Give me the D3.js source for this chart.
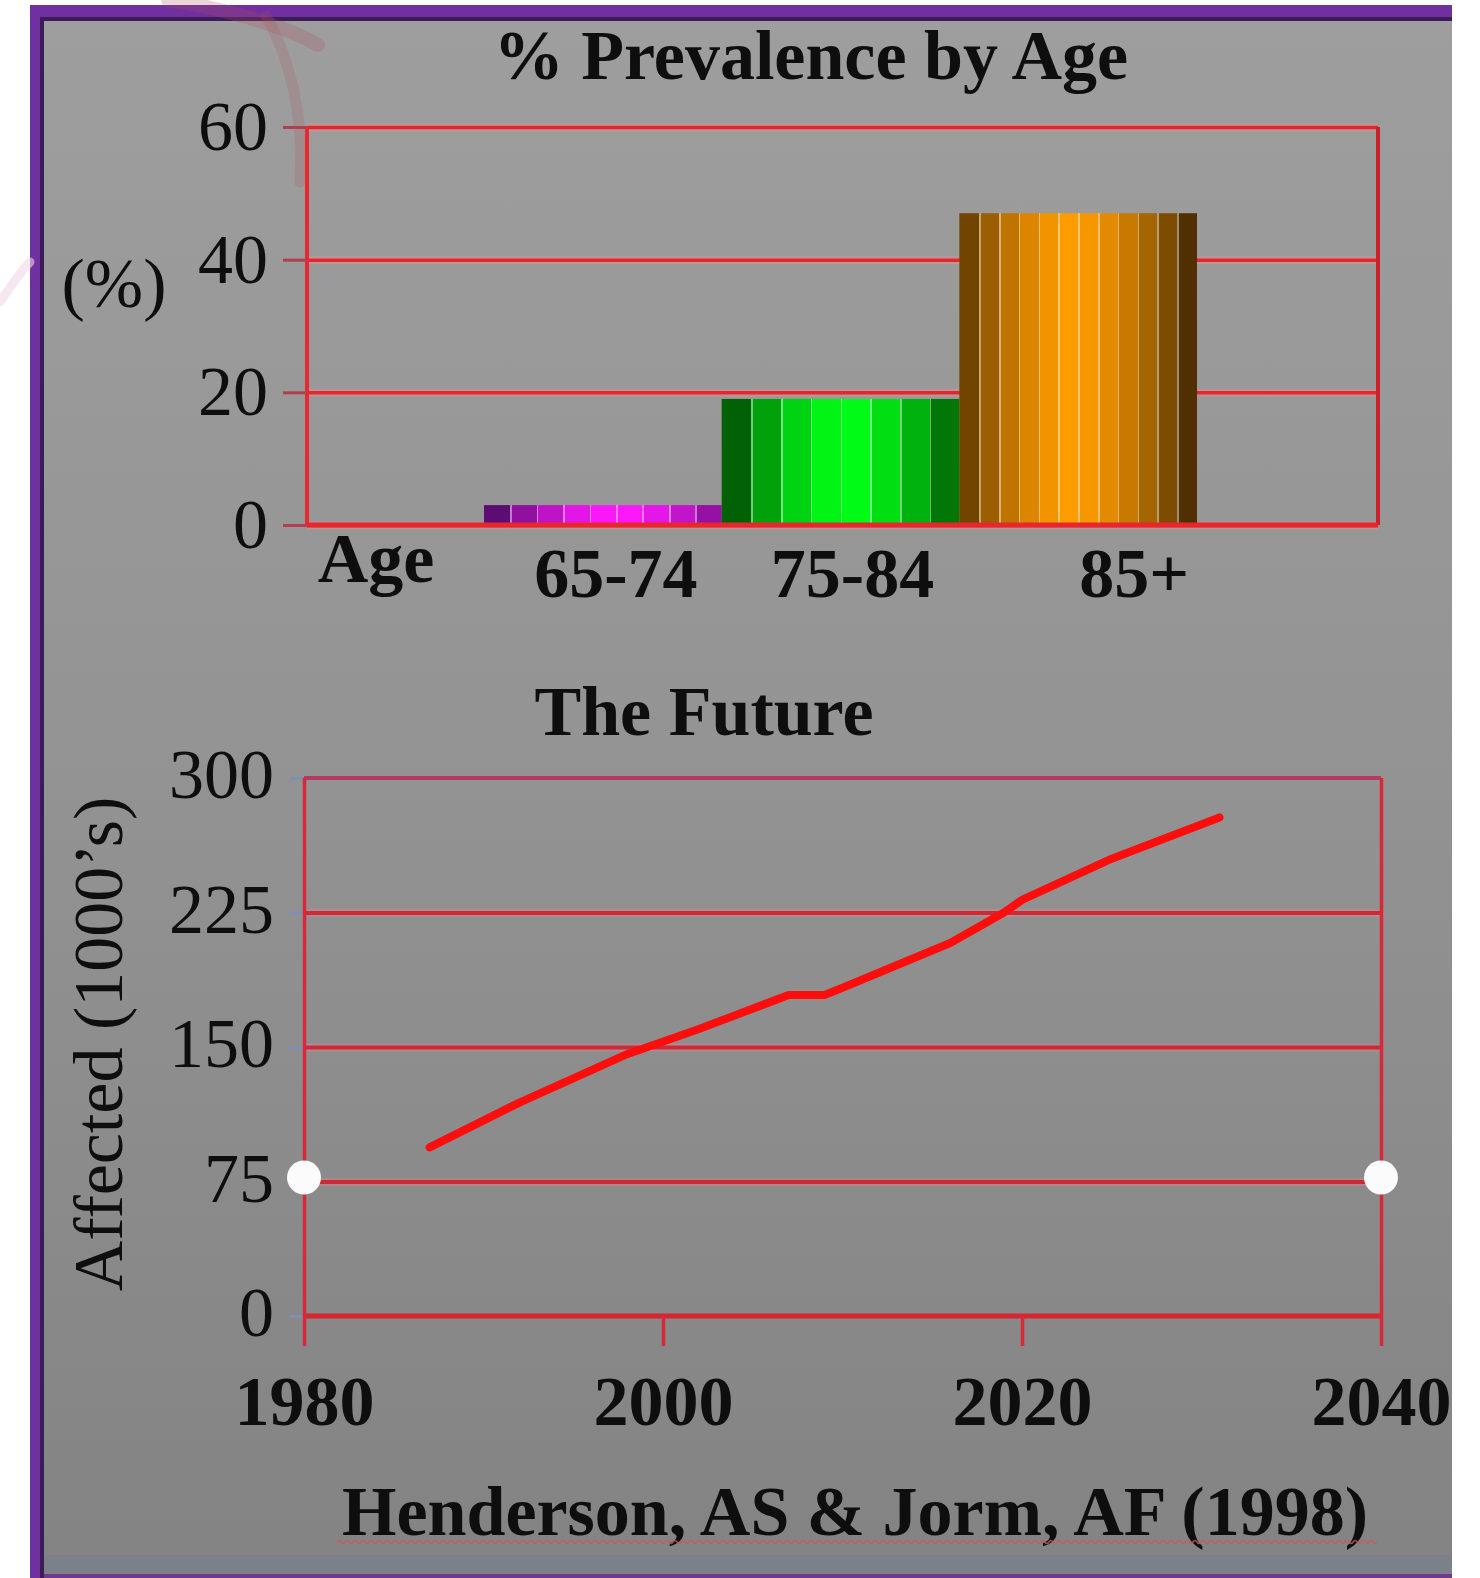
<!DOCTYPE html>
<html>
<head>
<meta charset="utf-8">
<script src="https://cdn.jsdelivr.net/npm/d3@7"></script>
<style>
  html, body { margin: 0; padding: 0; background: #ffffff; }
  svg { display: block; }
  text { font-family: "Liberation Serif", "Times New Roman", serif; fill: #0e0e0e; }
</style>
</head>
<body>
<svg id="chart" width="1480" height="1578"></svg>
<script>
// ---- data ----
const ageGroups = ["65-74", "75-84", "85+"];
const prevalence = [3, 19, 47];
const prevalenceTicks = [0, 20, 40, 60];

const years = [1987, 1992, 1998, 2002, 2007, 2009, 2010, 2016, 2019, 2020, 2025, 2031];
const affected = [94, 119, 146, 160, 179, 179, 183, 208, 225, 232, 255, 278];
const affectedTicks = [0, 75, 150, 225, 300];
const yearTicks = [1980, 2000, 2020, 2040];

// ---- layout ----
const FONT = 70;
const labelShift = [13, 12, 56];           // horizontal nudge of the age labels
const barStyles = [
  { dark: "#3e0a58", bright: "#ff18ff", peak: 0.56, bands: 9 },
  { dark: "#003e00", bright: "#00ff16", peak: 0.52, bands: 8 },
  { dark: "#382100", bright: "#ff9c00", peak: 0.47, bands: 12 }
];

const svg = d3.select("#chart");
const defs = svg.append("defs");

// slide background: purple frame and grey panel
const panelGrad = defs.append("linearGradient").attr("id", "panel")
  .attr("x1", 0).attr("y1", 0).attr("x2", 0).attr("y2", 1);
panelGrad.append("stop").attr("offset", 0).attr("stop-color", "#9e9e9e");
panelGrad.append("stop").attr("offset", 0.45).attr("stop-color", "#949494");
panelGrad.append("stop").attr("offset", 1).attr("stop-color", "#838383");

svg.append("rect").attr("x", 30).attr("y", 5).attr("width", 1422).attr("height", 1573).attr("fill", "#7030a0");
svg.append("rect").attr("x", 40).attr("y", 17).attr("width", 1412).attr("height", 1561).attr("fill", "#3b1c57");
svg.append("rect").attr("x", 44).attr("y", 21).attr("width", 1408).attr("height", 1555).attr("fill", "url(#panel)");
svg.append("rect").attr("x", 44).attr("y", 1555).attr("width", 1408).attr("height", 19).attr("fill", "#7c8089");
svg.append("rect").attr("x", 44).attr("y", 1574).attr("width", 1408).attr("height", 4).attr("fill", "#6e3a8e");

// faint decorative swoosh behind the top chart
const deco = svg.append("g").attr("fill", "none").attr("stroke-linecap", "round");
deco.append("path").attr("d", "M168,0 C220,8 282,24 318,45")
  .attr("stroke", "rgba(170,80,90,0.24)").attr("stroke-width", 14);
deco.append("path").attr("d", "M266,16 C292,62 304,120 300,182")
  .attr("stroke", "rgba(170,80,90,0.2)").attr("stroke-width", 11);
deco.append("path").attr("d", "M0,302 C10,288 20,272 30,262")
  .attr("stroke", "rgba(240,215,230,0.6)").attr("stroke-width", 9);

// ================= top chart: prevalence by age =================
const topX0 = 307, topX1 = 1378;
const yTop = d3.scaleLinear().domain([0, 60]).range([525, 127]);
const xAge = d3.scaleBand().domain(ageGroups).range([484, 1197]).padding(0);

const topG = svg.append("g");

// gridlines
const gridTop = topG.append("g").attr("transform", `translate(${topX0},0)`)
  .call(d3.axisLeft(yTop).tickValues(prevalenceTicks).tickSize(-(topX1 - topX0)).tickFormat(""));
gridTop.select(".domain").remove();
gridTop.selectAll(".tick line").attr("stroke", "#e4262e").attr("stroke-width", 3.5);
gridTop.selectAll(".tick line").clone(true).lower()
  .attr("stroke", "rgba(255,140,140,0.35)").attr("stroke-width", 8);

// plot border
topG.append("line").attr("x1", topX0).attr("x2", topX0).attr("y1", yTop(60)).attr("y2", yTop(0))
  .attr("stroke", "#e82a30").attr("stroke-width", 4);
topG.append("line").attr("x1", topX1).attr("x2", topX1).attr("y1", yTop(60)).attr("y2", yTop(0))
  .attr("stroke", "#c8222c").attr("stroke-width", 4);

// banded cylinder-like gradients for the bars
barStyles.forEach((s, k) => {
  const g = defs.append("linearGradient").attr("id", "bar" + k)
    .attr("x1", 0).attr("y1", 0).attr("x2", 1).attr("y2", 0);
  const span = Math.max(s.peak, 1 - s.peak);
  for (let i = 0; i < s.bands; i++) {
    const t0 = i / s.bands, t1 = (i + 1) / s.bands, tm = (t0 + t1) / 2;
    const v = Math.max(0, 1 - Math.pow(Math.abs(tm - s.peak) / span, 1.6));
    const c = d3.interpolateRgb(s.dark, s.bright)(v);
    if (i > 0) {
      const lite = d3.interpolateRgb(c, "#ffffff")(0.45);
      g.append("stop").attr("offset", t0).attr("stop-color", lite);
      g.append("stop").attr("offset", t0 + 0.007).attr("stop-color", lite);
      g.append("stop").attr("offset", t0 + 0.007).attr("stop-color", c);
    } else {
      g.append("stop").attr("offset", t0).attr("stop-color", c);
    }
    g.append("stop").attr("offset", t1).attr("stop-color", c);
  }
});

topG.append("g").selectAll("rect").data(ageGroups).join("rect")
  .attr("x", d => xAge(d))
  .attr("width", xAge.bandwidth())
  .attr("y", (d, i) => yTop(prevalence[i]))
  .attr("height", (d, i) => yTop(0) - yTop(prevalence[i]))
  .attr("fill", (d, i) => `url(#bar${i})`);

// baseline over the bars
topG.append("line").attr("x1", topX0).attr("x2", topX1).attr("y1", yTop(0)).attr("y2", yTop(0))
  .attr("stroke", "#e8262c").attr("stroke-width", 5);

// y axis ticks and labels
const axTop = topG.append("g").attr("transform", `translate(${topX0},0)`)
  .call(d3.axisLeft(yTop).tickValues(prevalenceTicks).tickSize(24).tickPadding(15));
axTop.select(".domain").remove();
axTop.selectAll(".tick line").attr("stroke", "#b0404e").attr("stroke-width", 3);
axTop.selectAll(".tick text").attr("font-size", FONT).attr("font-family", null).attr("fill", "#0e0e0e");

// category labels
topG.append("g").selectAll("text").data(ageGroups).join("text")
  .attr("x", (d, i) => xAge(d) + xAge.bandwidth() / 2 + labelShift[i])
  .attr("y", 597)
  .attr("text-anchor", "middle")
  .attr("font-size", FONT).attr("font-weight", "bold")
  .text(d => d);

topG.append("text").attr("x", 376).attr("y", 582).attr("text-anchor", "middle")
  .attr("font-size", FONT).attr("font-weight", "bold").text("Age");
topG.append("text").attr("x", 114).attr("y", 307).attr("text-anchor", "middle")
  .attr("font-size", FONT).text("(%)");
topG.append("text").attr("x", 811).attr("y", 79).attr("text-anchor", "middle")
  .attr("font-size", FONT).attr("font-weight", "bold").text("% Prevalence by Age");

// ================= bottom chart: the future =================
const xYear = d3.scaleLinear().domain([1980, 2040]).range([304, 1381]);
const yAff = d3.scaleLinear().domain([0, 300]).range([1316, 778]);
const botX0 = xYear(1980), botX1 = xYear(2040);

const botG = svg.append("g");

const gridBot = botG.append("g").attr("transform", `translate(${botX0},0)`)
  .call(d3.axisLeft(yAff).tickValues(affectedTicks.filter(v => v > 0 && v < 300))
    .tickSize(-(botX1 - botX0)).tickFormat(""));
gridBot.select(".domain").remove();
gridBot.selectAll(".tick line").attr("stroke", "#cc2a36").attr("stroke-width", 4);
gridBot.selectAll(".tick line").clone(true).lower()
  .attr("stroke", "rgba(255,130,140,0.3)").attr("stroke-width", 8);

// frame: purplish top edge, red baseline
botG.append("line").attr("x1", botX0).attr("x2", botX1).attr("y1", yAff(300)).attr("y2", yAff(300))
  .attr("stroke", "#b43a62").attr("stroke-width", 4);
botG.append("line").attr("x1", botX0).attr("x2", botX1).attr("y1", yAff(0)).attr("y2", yAff(0))
  .attr("stroke", "#d8242e").attr("stroke-width", 5);

// y axis: short bluish ticks and labels
const axBotY = botG.append("g").attr("transform", `translate(${botX0},0)`)
  .call(d3.axisLeft(yAff).tickValues(affectedTicks).tickSize(14).tickPadding(16));
axBotY.select(".domain").remove();
axBotY.selectAll(".tick line").attr("stroke", "#7f8fb4").attr("stroke-width", 3);
axBotY.selectAll(".tick text").attr("font-size", FONT).attr("font-family", null)
  .attr("fill", "#0e0e0e").attr("dy", "0.28em");

// x axis: red ticks hanging below (edge ticks run up as the frame sides), bold year labels
const axBotX = botG.append("g").attr("transform", `translate(0,${yAff(0)})`)
  .call(d3.axisBottom(xYear).tickValues(yearTicks).tickSize(30).tickFormat(d3.format("d")));
axBotX.select(".domain").remove();
axBotX.selectAll(".tick line").attr("stroke", "#d8283a").attr("stroke-width", 3.5)
  .attr("y1", d => (d === 1980 || d === 2040) ? -(yAff(0) - yAff(300)) : 0);
axBotX.selectAll(".tick text").attr("font-size", FONT).attr("font-weight", "bold")
  .attr("font-family", null).attr("fill", "#0e0e0e").attr("y", 109).attr("dy", 0);

// series line
const line = d3.line().x((d, i) => xYear(years[i])).y(d => yAff(d));
botG.append("path").datum(affected)
  .attr("d", line)
  .attr("fill", "none").attr("stroke", "#ff0c0c").attr("stroke-width", 8)
  .attr("stroke-linejoin", "round").attr("stroke-linecap", "round");

// white handles at the frame edges
botG.append("g").selectAll("circle").data([1980, 2040]).join("circle")
  .attr("cx", d => xYear(d)).attr("cy", yAff(75) - 4).attr("r", 17)
  .attr("fill", "#fbfbfb");

botG.append("text").attr("x", 704).attr("y", 735).attr("text-anchor", "middle")
  .attr("font-size", FONT).attr("font-weight", "bold").text("The Future");
botG.append("text").attr("transform", "translate(122,1044) rotate(-90)")
  .attr("text-anchor", "middle").attr("font-size", FONT).text("Affected (1000\u2019s)");

// source line with its wavy underline
botG.append("text").attr("x", 855).attr("y", 1535).attr("text-anchor", "middle")
  .attr("font-size", FONT).attr("font-weight", "bold").text("Henderson, AS & Jorm, AF (1998)");
let wave = "M337,1542";
for (let x = 337; x < 1373; x += 8) wave += " q2,-3 4,0 t4,0";
botG.append("path").attr("d", wave).attr("fill", "none")
  .attr("stroke", "#c85a62").attr("stroke-width", 1.6).attr("opacity", 0.8);
</script>
</body>
</html>
